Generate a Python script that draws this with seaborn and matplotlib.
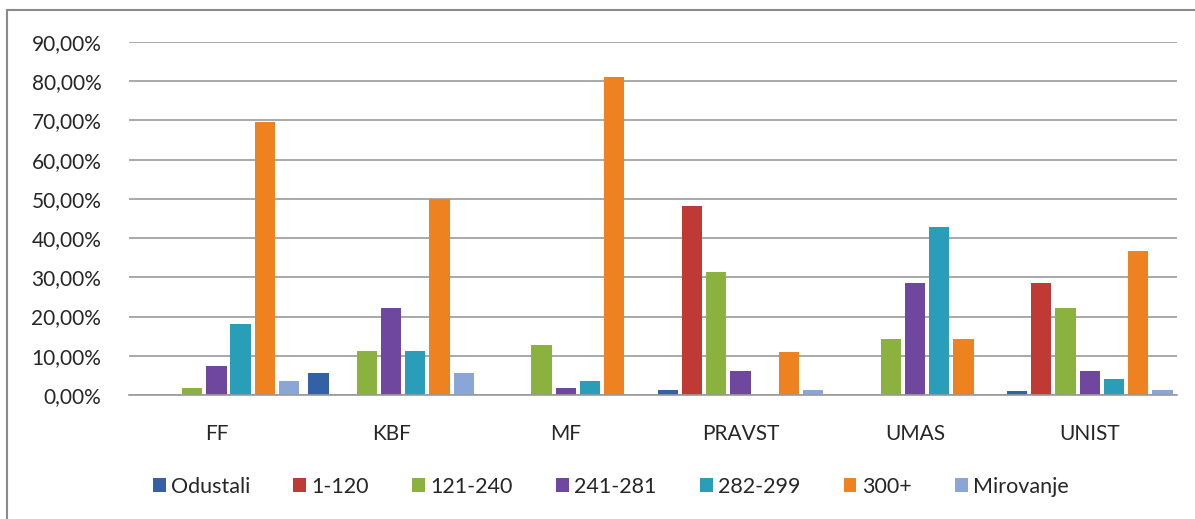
import matplotlib
matplotlib.use("Agg")
import matplotlib.pyplot as plt
import seaborn as sns
import pandas as pd
from matplotlib.ticker import FuncFormatter
from matplotlib.patches import Rectangle

categories = ["FF", "KBF", "MF", "PRAVST", "UMAS", "UNIST"]
series = ["Odustali", "1-120", "121-240", "241-281", "282-299", "300+", "Mirovanje"]
odustali  = [0.0, 5.6, 0.0, 1.3, 0.0, 1.0]
s1_120    = [0.0, 0.0, 0.0, 48.3, 0.0, 28.5]
s121_240  = [1.8, 11.1, 12.7, 31.3, 14.3, 22.3]
s241_281  = [7.3, 22.2, 1.8, 6.0, 28.6, 6.2]
s282_299  = [18.0, 11.1, 3.6, 0.0, 42.9, 4.1]
s300      = [69.7, 50.0, 81.2, 11.0, 14.3, 36.8]
mirovanje = [3.6, 5.6, 0.0, 1.3, 0.0, 1.2]
colors = ["#3461A6", "#BF3A35", "#8BB13F", "#6F479E", "#2A9DB9", "#EE8120", "#8AA6D6"]

values = [odustali, s1_120, s121_240, s241_281, s282_299, s300, mirovanje]
rows = []
for s, vals in zip(series, values):
    for c, v in zip(categories, vals):
        rows.append({"cat": c, "series": s, "val": v / 100.0})
df = pd.DataFrame(rows)

sns.set_theme(style="white")
plt.rcParams["font.family"] = ["Lato", "DejaVu Sans"]

fig = plt.figure(figsize=(11.95, 5.19), dpi=100)
ax = fig.add_axes([0.108, 0.239, 0.877, 0.680])

sns.barplot(data=df, x="cat", y="val", hue="series", hue_order=series,
            order=categories, palette=colors, width=0.97, gap=0.16,
            ax=ax, errorbar=None, saturation=1, edgecolor="none", legend=True)

ax.set_ylim(0, 0.9)
ax.set_yticks([i / 10 for i in range(10)])
ax.yaxis.set_major_formatter(FuncFormatter(lambda v, p: f"{v*100:.2f}%".replace(".", ",")))
ax.yaxis.grid(True, color="#9a9a9a", linewidth=1.2)
ax.set_axisbelow(True)
for sp in ["top", "right", "left"]:
    ax.spines[sp].set_visible(False)
ax.spines["bottom"].set_color("#9a9a9a")
ax.spines["bottom"].set_linewidth(1.2)
ax.set_xlabel("")
ax.set_ylabel("")
ax.tick_params(axis="y", labelsize=15, colors="#262626", length=0, pad=20)
ax.tick_params(axis="x", labelsize=15, colors="#262626", length=0, pad=21)
ax.set_xlim(-0.5, len(categories) - 0.5)

h, l = ax.get_legend_handles_labels()
ax.legend_.remove()
fig.legend(h, l, loc="center", bbox_to_anchor=(0.511, 0.062), ncol=7, frameon=False,
           fontsize=15.5, handlelength=0.6, handleheight=0.6, handletextpad=0.25,
           columnspacing=2.0)

# outer frame (left and top edges visible)
fig.patches.append(Rectangle((0.006, -0.1), 1.2, 1.08, transform=fig.transFigure,
                             fill=False, edgecolor="#8a8a8a", linewidth=1.5))

fig.savefig("out.png", dpi=100)
